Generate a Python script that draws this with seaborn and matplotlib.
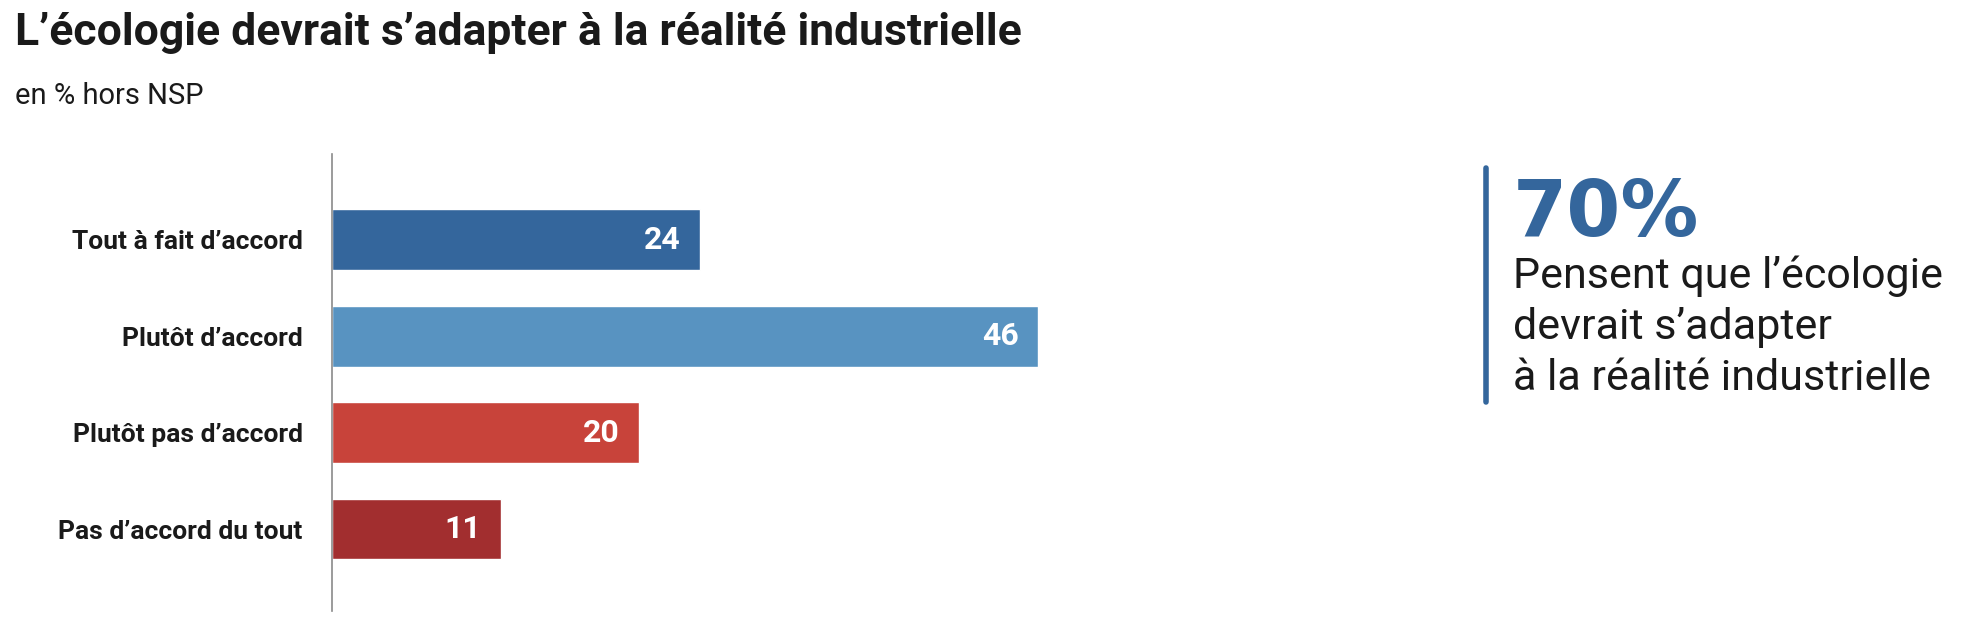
import pandas as pd
import seaborn as sns
import matplotlib.pyplot as plt

# data
categories = ["Tout à fait d’accord", "Plutôt d’accord", "Plutôt pas d’accord", "Pas d’accord du tout"]
values = [24, 46, 20, 11]
bar_colors = ["#34669c", "#5893c1", "#c8433a", "#a22e2f"]
title = "L’écologie devrait s’adapter à la réalité industrielle"
subtitle = "en % hors NSP"
big_number = "70%"
caption_lines = ["Pensent que l’écologie", "devrait s’adapter", "à la réalité industrielle"]

sns.set_style("white")
font = ["Roboto", "DejaVu Sans"]
plt.rcParams["font.family"] = font

df = pd.DataFrame({"cat": categories, "val": values})

fig = plt.figure(figsize=(19.8, 6.26), dpi=100)
ax = fig.add_axes([332 / 1980, 1 - 611 / 626, 706 / 1980, 457 / 626])

sns.barplot(data=df, y="cat", x="val", hue="cat", palette=bar_colors,
            orient="h", width=0.63, legend=False, ax=ax, saturation=1)

ax.set_xlim(0, 46)
ax.set_ylim(3.85, -0.89)
ax.set_xlabel("")
ax.set_ylabel("")
ax.set_xticks([])
for s in ["top", "right", "bottom"]:
    ax.spines[s].set_visible(False)
ax.spines["left"].set_color("#8a8a8a")
ax.spines["left"].set_linewidth(1.2)
ax.tick_params(axis="y", length=0, pad=21)
for lab in ax.get_yticklabels():
    lab.set_fontweight("bold")
    lab.set_fontsize(19)
    lab.set_color("#1a1a1a")

for i, v in enumerate(values):
    ax.annotate(str(v), xy=(v, i), xytext=(-14, 0), textcoords="offset points",
                ha="right", va="center", color="white", fontweight="bold", fontsize=23)

# title block
fig.text(15 / 1980, 1 - 45 / 626, title, fontweight="bold", fontsize=32,
         color="#1a1a1a", va="baseline")
fig.text(15 / 1980, 1 - 104 / 626, subtitle, fontsize=21,
         color="#1a1a1a", va="baseline")

# key figure panel
fig.add_artist(plt.Line2D([1486 / 1980, 1486 / 1980], [1 - 168 / 626, 1 - 402 / 626],
                          color="#34669c", linewidth=4, transform=fig.transFigure))
fig.text(1513 / 1980, 1 - 236 / 626, big_number, family=["DejaVu Sans"], fontweight="bold",
         fontsize=56, color="#34669c", va="baseline")
for line, base in zip(caption_lines, [288, 339, 390]):
    fig.text(1513 / 1980, 1 - base / 626, line, fontsize=31,
             color="#1a1a1a", va="baseline")

fig.savefig("out.png", dpi=100)
